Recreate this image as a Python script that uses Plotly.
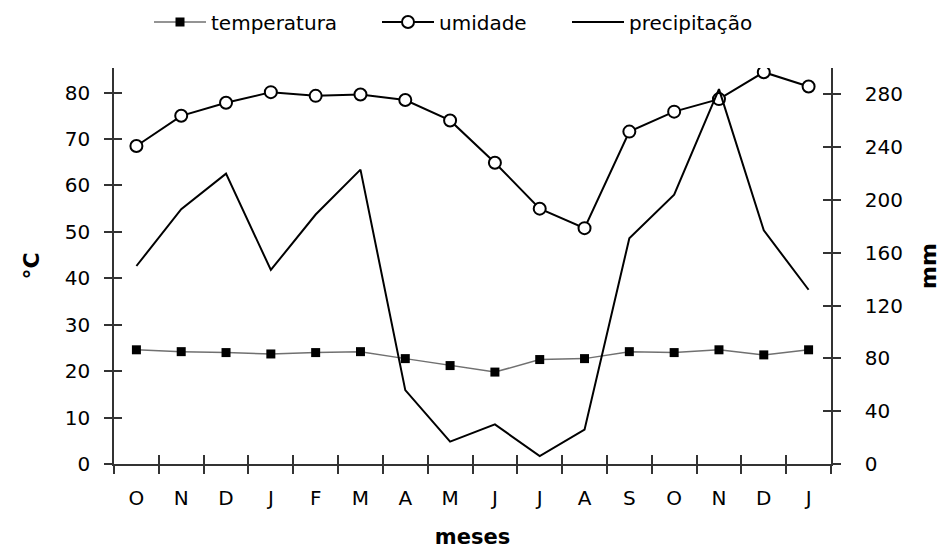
import plotly.graph_objects as go

meses = ["O", "N", "D", "J", "F", "M", "A", "M", "J", "J", "A", "S", "O", "N", "D", "J"]
temperatura = [24.6, 24.2, 24.0, 23.7, 24.0, 24.2, 22.7, 21.2, 19.8, 22.5, 22.7, 24.2, 24.0, 24.6, 23.5, 24.6]
umidade = [68.5, 75.0, 77.8, 80.1, 79.3, 79.6, 78.4, 74.0, 64.9, 55.0, 50.8, 71.6, 75.9, 78.6, 84.4, 81.3]
precipitacao = [150, 193, 220, 147, 189, 223, 56, 17, 30, 6, 26, 171, 204, 284, 177, 132]

left_ticks = [0, 10, 20, 30, 40, 50, 60, 70, 80]
right_ticks = [0, 40, 80, 120, 160, 200, 240, 280]

x = list(range(len(meses)))
FONT = "DejaVu Sans, Liberation Sans, Arial, sans-serif"
AX = "#333333"
FS = 20

fig = go.Figure()
fig.add_trace(go.Scatter(
    x=x, y=temperatura, name="temperatura", mode="lines+markers",
    line=dict(color="#707070", width=1.5),
    marker=dict(symbol="square", size=9, color="black"),
    xaxis="x", yaxis="y", legend="legend"))
fig.add_trace(go.Scatter(
    x=x, y=umidade, name="umidade", mode="lines+markers",
    line=dict(color="black", width=2),
    marker=dict(symbol="circle", size=12, color="white", line=dict(color="black", width=2)),
    xaxis="x", yaxis="y", legend="legend2"))
fig.add_trace(go.Scatter(
    x=x, y=precipitacao, name="precipitação", mode="lines",
    line=dict(color="black", width=2),
    xaxis="x", yaxis="y2", legend="legend3"))

xr = [-0.5, len(meses) - 0.5]
yr = [0, 85.3]
y2r = [0, 300]

common_x = dict(range=xr, tickmode="array", tickvals=[i - 0.5 for i in range(len(meses) + 1)],
                showgrid=False, zeroline=False, fixedrange=True)

def leg(xpx):
    return dict(orientation="h", xref="container", yref="container",
                x=xpx / 941, xanchor="left", y=1 - 22 / 549, yanchor="middle",
                font=dict(family=FONT, size=FS, color="black"),
                itemwidth=52, bgcolor="rgba(0,0,0,0)")

fig.update_layout(
    width=941, height=549,
    margin=dict(l=114, r=110, t=68, b=85, autoexpand=False),
    paper_bgcolor="white", plot_bgcolor="white",
    font=dict(family=FONT, size=FS, color="black"),
    showlegend=True,
    legend=leg(149), legend2=leg(377), legend3=leg(567),
    xaxis=dict(range=xr, tickmode="array", tickvals=x, ticktext=meses,
               ticks="", showline=True, linecolor=AX, linewidth=2,
               showgrid=False, zeroline=False, ticklabelstandoff=15,
               tickfont=dict(family=FONT, size=FS), automargin=False,
               title=dict(text="<b>meses</b>", font=dict(family=FONT, size=21), standoff=21)),
    xaxis2=dict(common_x, overlaying="x", anchor="y", side="bottom", ticks="outside",
                ticklen=9, tickwidth=1.5, tickcolor=AX, showticklabels=False, showline=False),
    xaxis3=dict(common_x, overlaying="x", anchor="y", side="bottom", ticks="inside",
                ticklen=9, tickwidth=1.5, tickcolor=AX, showticklabels=False, showline=False),
    yaxis=dict(range=yr, tickmode="array", tickvals=left_ticks,
               ticks="outside", ticklen=8, tickwidth=1.5, tickcolor=AX,
               showline=True, linecolor=AX, linewidth=1.5, showgrid=False, zeroline=False,
               ticklabelstandoff=10, tickfont=dict(family=FONT, size=FS), automargin=False,
               title=dict(text="<b>°C</b>", font=dict(family=FONT, size=22), standoff=19)),
    yaxis3=dict(range=yr, tickmode="array", tickvals=left_ticks, overlaying="y", side="left",
                anchor="x", ticks="inside", ticklen=8, tickwidth=1.5, tickcolor=AX,
                showticklabels=False, showline=False, showgrid=False, zeroline=False),
    yaxis2=dict(range=y2r, tickmode="array", tickvals=right_ticks, overlaying="y", side="right",
                anchor="x", ticks="outside", ticklen=8, tickwidth=1.5, tickcolor=AX,
                showline=True, linecolor=AX, linewidth=1.5, showgrid=False, zeroline=False,
                ticklabelstandoff=20, tickfont=dict(family=FONT, size=FS), automargin=False,
                title=dict(text="<b>mm</b>", font=dict(family=FONT, size=22), standoff=20)),
    yaxis4=dict(range=y2r, tickmode="array", tickvals=right_ticks, overlaying="y", side="right",
                anchor="x", ticks="inside", ticklen=8, tickwidth=1.5, tickcolor=AX,
                showticklabels=False, showline=False, showgrid=False, zeroline=False),
)

# invisible helper traces to activate the crossing-tick overlay axes
fig.add_trace(go.Scatter(x=[x[0]], y=[temperatura[0]], xaxis="x2", yaxis="y3",
                         mode="markers", marker=dict(opacity=0), showlegend=False, hoverinfo="skip"))
fig.add_trace(go.Scatter(x=[x[0]], y=[precipitacao[0]], xaxis="x3", yaxis="y4",
                         mode="markers", marker=dict(opacity=0), showlegend=False, hoverinfo="skip"))

fig.write_html("out.html", config={"displayModeBar": False},
               post_script="document.body.style.margin='0px';")
